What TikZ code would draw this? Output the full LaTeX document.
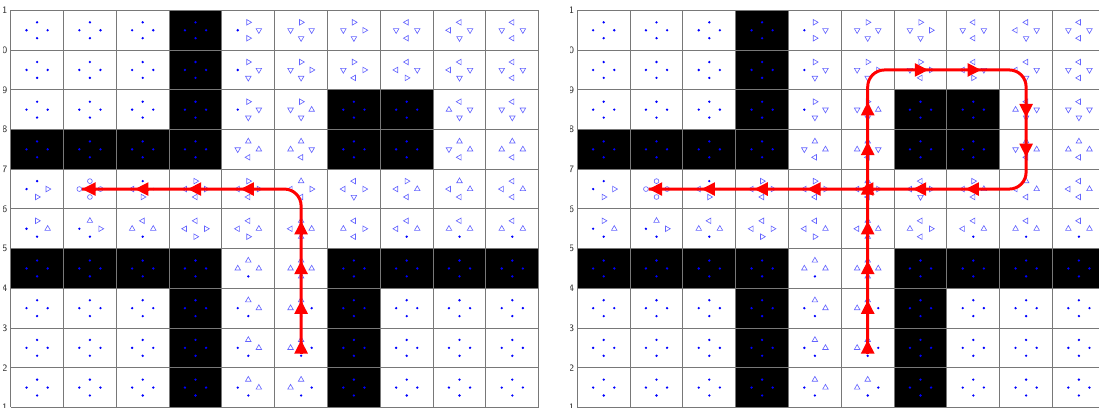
\documentclass[tikz,border=0pt]{standalone}
\usetikzlibrary{shapes.geometric,arrows.meta}
\definecolor{dotblue}{RGB}{0,0,255}
\definecolor{triblue}{RGB}{100,100,255}
\definecolor{gridgray}{RGB}{120,120,120}
\tikzset{
  gridline/.style={draw=gridgray, line width=0.65pt},
  wall/.style={fill=black},
  mkd/.style={circle, fill=dotblue, inner sep=0pt, minimum size=0.065cm},
  mktri/.style={regular polygon, regular polygon sides=3, draw=triblue, line width=0.45pt, inner sep=0pt, minimum size=0.16cm},
  mku/.style={mktri},
  mkn/.style={mktri, shape border rotate=180},
  mkl/.style={mktri, shape border rotate=90},
  mkr/.style={mktri, shape border rotate=-90},
  mko/.style={circle, draw=triblue, line width=0.45pt, inner sep=0pt, minimum size=0.12cm},
  ticklabel/.style={font=\sffamily\fontsize{7}{8}\selectfont, text=black!80, anchor=east, inner sep=0pt},
  route/.style={red, line width=0.075cm, rounded corners=0.42cm},
  routehead/.style={red, line width=0.075cm, -{Triangle[length=0.34cm,width=0.32cm]}},
}
% one cell: top, left, right, bottom marker
\def\mkcell#1#2#3#4\relax{%
  \node[mk#1] (\pn-\cellx-\celly-t) at (\cellx-0.5,\celly-0.7) {};
  \node[mk#2] (\pn-\cellx-\celly-l) at (\cellx-0.7,\celly-0.5) {};
  \node[mk#3] (\pn-\cellx-\celly-r) at (\cellx-0.3,\celly-0.5) {};
  \node[mk#4] (\pn-\cellx-\celly-b) at (\cellx-0.5,\celly-0.3) {};
}
\begin{document}
\begin{tikzpicture}
	\useasboundingbox (0,0) rectangle (27.475,-10.175);
	\clip (0,0) rectangle (27.475,-10.175);

	\foreach \px/\pn in {0.2675/L, 14.4325/R} {
	\begin{scope}[shift={(\px,-0.26)}, x=1.32cm, y=-0.9925cm]
		% walls
		\fill[wall] (3,0) rectangle (4,4);
		\fill[wall] (0,3) rectangle (4,4);
		\fill[wall] (6,2) rectangle (8,4);
		\fill[wall] (0,6) rectangle (4,7);
		\fill[wall] (3,7) rectangle (4,10);
		\fill[wall] (6,6) rectangle (10,7);
		\fill[wall] (6,7) rectangle (7,10);

		\foreach \i in {0,...,10} {
			\draw[gridline] (\i,0) -- (\i,10);
			\draw[gridline] (0,\i) -- (10,\i);
		}

		% axis numbers, cut at the left
		\begin{scope}
			\clip (-0.135,-0.5) rectangle (-0.04,10.5);
			\foreach \j in {0,...,10} {
				\pgfmathtruncatemacro{\lab}{11-\j}
				\node[ticklabel] (\pn-tick\j) at (-0.057,\j) {\lab};
			}
		\end{scope}

		% markers
		\foreach \rowcodes [count=\celly] in {
			{dddd,dddd,dddd,dddd,rdnr,rnnn,rnrn,lnnl,llnn,lnnl},
			{dddd,dddd,dddd,dddd,rdnn,rnrn,rnrl,llnr,llnn,lnnl},
			{dddd,dddd,dddd,dddd,rdnn,rnun,dddd,dddd,lunn,lnnn},
			{dddd,dddd,dddd,dddd,unul,uunl,dddd,dddd,unul,uuul},
			{ddrr,oooo,dldr,rlrl,rlrl,ulrl,llrn,rlul,ulul,llul},
			{rdud,udrd,luud,llrr,llur,uluu,lurl,llud,luud,luud},
			{dddd,dddd,dddd,dddd,uuud,uuuu,dddd,dddd,dddd,dddd},
			{dddd,dddd,dddd,dddd,udud,uudd,dddd,dddd,dddd,dddd},
			{dddd,dddd,dddd,dddd,udud,uudd,dddd,dddd,dddd,dddd},
			{dddd,dddd,dddd,dddd,udud,uudd,dddd,dddd,dddd,dddd}} {
			\foreach \code [count=\cellx] in \rowcodes {
				\expandafter\mkcell\code\relax
			}
		}
	\end{scope}
	}

	% left route
	\begin{scope}[shift={(0.2675,-0.26)}, x=1.32cm, y=-0.9925cm]
		\coordinate (Lstart) at (5.5,8.63);
		\coordinate (Lturn) at (5.5,4.5);
		\coordinate (Lgoal) at (1.35,4.5);
		\draw[route] (Lstart) -- (Lturn) -- (Lgoal);
		\foreach \y in {5.5,6.5,7.5,8.5}
			\draw[routehead] (5.5,\y+0.13) -- (5.5,\y-0.2);
		\foreach \x in {1.5,2.5,3.5,4.5}
			\draw[routehead] (\x+0.1,4.5) -- (\x-0.15,4.5);
	\end{scope}

	% right route
	\begin{scope}[shift={(14.4325,-0.26)}, x=1.32cm, y=-0.9925cm]
		\coordinate (Rstart) at (5.5,8.63);
		\coordinate (Rtop) at (5.5,1.5);
		\coordinate (Rright) at (8.5,1.5);
		\coordinate (Rdown) at (8.5,4.5);
		\coordinate (Rgoal) at (1.35,4.5);
		\draw[route] (Rstart) -- (Rtop) -- (Rright) -- (Rdown) -- (Rgoal);
		\foreach \y in {2.5,3.5,4.5,5.5,6.5,7.5,8.5}
			\draw[routehead] (5.5,\y+0.13) -- (5.5,\y-0.2);
		\foreach \x in {6.5,7.5}
			\draw[routehead] (\x-0.1,1.5) -- (\x+0.15,1.5);
		\foreach \y in {2.5,3.5}
			\draw[routehead] (8.5,\y-0.13) -- (8.5,\y+0.2);
		\foreach \x in {1.5,2.5,3.5,4.5,5.5,6.5,7.5}
			\draw[routehead] (\x+0.1,4.5) -- (\x-0.15,4.5);
	\end{scope}
\end{tikzpicture}
\end{document}
